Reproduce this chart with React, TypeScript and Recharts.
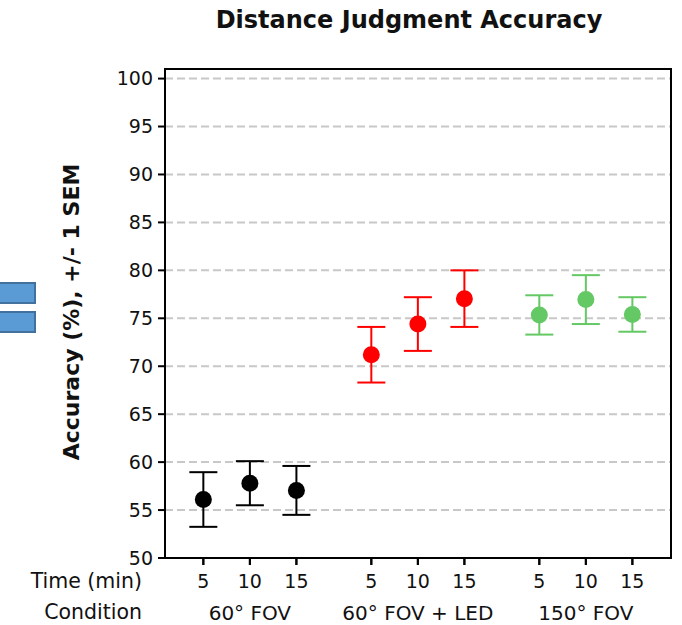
import React from "react";
import { ScatterChart, Scatter, XAxis, YAxis, CartesianGrid, ErrorBar, ReferenceArea, ReferenceLine } from "recharts";

const conditions = ["60° FOV", "60° FOV + LED", "150° FOV"];
const times = ["5", "10", "15"];
const fov60Mean = [56.1, 57.8, 57.05];
const fov60Sem = [2.85, 2.3, 2.55];
const ledMean = [71.2, 74.4, 77.05];
const ledSem = [2.9, 2.8, 2.95];
const fov150Mean = [75.35, 76.95, 75.4];
const fov150Sem = [2.05, 2.55, 1.8];
const yTicks = [50, 55, 60, 65, 70, 75, 80, 85, 90, 95, 100];

// spacing between condition groups, in time-slot units
const GROUP_STEP = 3.61;
const X_DOMAIN: [number, number] = [-0.824, 2 * GROUP_STEP + 2.83];
const Y_DOMAIN: [number, number] = [50, 101];

const build = (g: number, mean: number[], sem: number[]) =>
  mean.map((m, i) => ({ x: g * GROUP_STEP + i, y: m, sem: sem[i], time: times[i] }));

const series = [
  { name: conditions[0], color: "#000000", data: build(0, fov60Mean, fov60Sem) },
  { name: conditions[1], color: "#ff0000", data: build(1, ledMean, ledSem) },
  { name: conditions[2], color: "#64c864", data: build(2, fov150Mean, fov150Sem) },
];

const timeTicks = series.flatMap((s) => s.data.map((d) => d.x));
const condTicks = conditions.map((_, g) => g * GROUP_STEP + 1);

const FONT = "'DejaVu Sans', Verdana, sans-serif";
const tickStyle = { fontSize: 19, fill: "#111" };

export default function App() {
  return (
    <div style={{ position: "absolute", left: 0, top: 0, width: 682, height: 625, fontFamily: FONT, background: "#fff" }}>
      <ScatterChart width={682} height={625} margin={{ top: 69, right: 11, left: 105, bottom: 7 }}>
        <CartesianGrid xAxisId="a_time" vertical={false} stroke="#c8c8c8" strokeDasharray="8 4" strokeWidth={2} />
        <XAxis
          xAxisId="a_time"
          type="number"
          dataKey="x"
          domain={X_DOMAIN}
          ticks={timeTicks}
          tickFormatter={(v) => times[timeTicks.indexOf(v) % 3] ?? ""}
          interval={0}
          height={30}
          tickSize={7}
          tickMargin={10}
          stroke="#000"
          tickLine={{ stroke: "#000", strokeWidth: 2 }}
          tick={tickStyle}
          allowDataOverflow
        />
        <XAxis
          xAxisId="b_cond"
          type="number"
          dataKey="x"
          domain={X_DOMAIN}
          ticks={condTicks}
          tickFormatter={(v) => conditions[condTicks.indexOf(v)] ?? ""}
          interval={0}
          height={30}
          axisLine={false}
          tickLine={false}
          tickSize={0}
          tickMargin={18}
          tick={{ fontSize: 20, fill: "#111" }}
          allowDataOverflow
        />
        <YAxis
          type="number"
          dataKey="y"
          domain={Y_DOMAIN}
          ticks={yTicks}
          interval={0}
          width={60}
          tickSize={7}
          tickMargin={5}
          stroke="#000"
          tickLine={{ stroke: "#000", strokeWidth: 2 }}
          tick={tickStyle}
          allowDataOverflow
        />
        <ReferenceArea xAxisId="a_time" x1={X_DOMAIN[0]} x2={X_DOMAIN[1]} y1={Y_DOMAIN[0]} y2={Y_DOMAIN[1]} fill="none" stroke="#000" strokeWidth={2} ifOverflow="extendDomain" />
        {timeTicks.map((t) => (
          <ReferenceLine
            key={t}
            xAxisId="a_time"
            segment={[{ x: t, y: Y_DOMAIN[0] }, { x: t, y: Y_DOMAIN[0] - 0.73 }]}
            stroke="#000"
            strokeWidth={2}
            ifOverflow="visible"
          />
        ))}
        {series.map((s) => (
          <Scatter
            key={s.name}
            xAxisId="a_time"
            data={s.data}
            fill={s.color}
            isAnimationActive={false}
            shape={(p: any) => <circle cx={p.cx} cy={p.cy} r={8.5} fill={s.color} />}
          >
            <ErrorBar dataKey="sem" direction="y" width={14} stroke={s.color} strokeWidth={2} />
          </Scatter>
        ))}
      </ScatterChart>
      <svg width={682} height={625} style={{ position: "absolute", left: 0, top: 0, pointerEvents: "none" }}>
        <text x={409} y={28} textAnchor="middle" fontSize={24} fontWeight="bold" fill="#111">
          Distance Judgment Accuracy
        </text>
        <text
          x={0}
          y={0}
          transform="translate(79,312) rotate(-90)"
          textAnchor="middle"
          fontSize={22}
          fontWeight="bold"
          fill="#111"
        >
          Accuracy (%), +/- 1 SEM
        </text>
        <text x={142} y={588} textAnchor="end" fontSize={20.5} fill="#111">Time (min)</text>
        <text x={142} y={619} textAnchor="end" fontSize={20.5} fill="#111">Condition</text>
        <rect x={-2} y={283} width={37} height={20} fill="#5b9bd5" stroke="#41719c" strokeWidth={2} />
        <rect x={-2} y={312} width={37} height={20} fill="#5b9bd5" stroke="#41719c" strokeWidth={2} />
      </svg>
    </div>
  );
}
